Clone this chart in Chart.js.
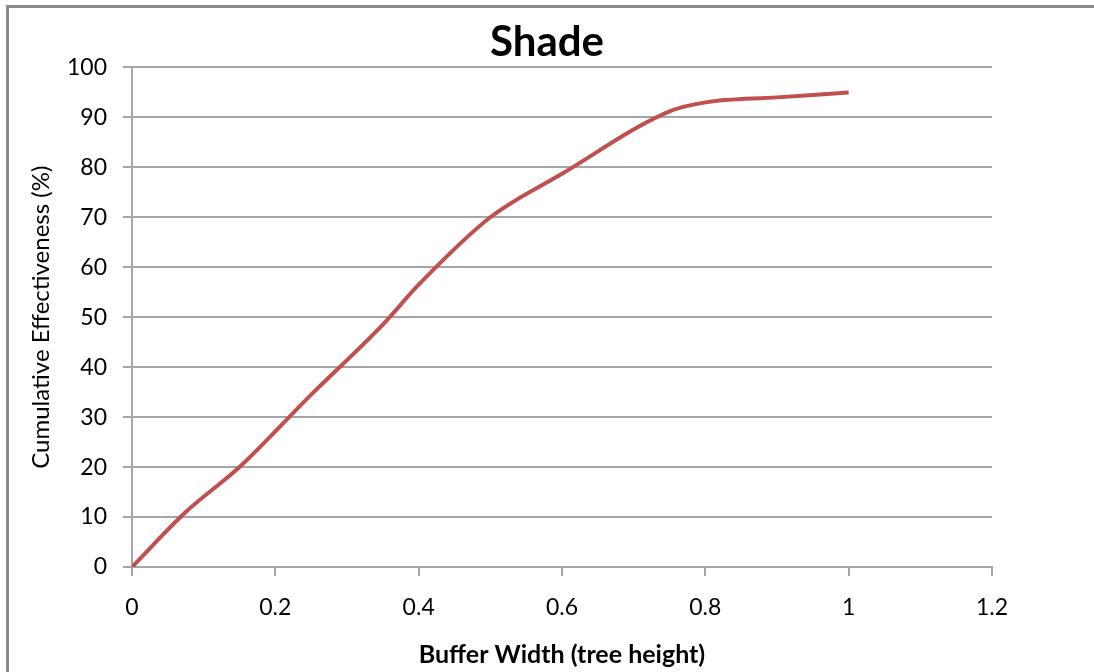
<!DOCTYPE html>
<html>
<head>
<meta charset="utf-8">
<script src="https://cdn.jsdelivr.net/npm/chart.js@4"></script>
<style>
  html, body { margin: 0; padding: 0; background: #fff; overflow: hidden; }
  canvas { display: block; }
</style>
</head>
<body>
<canvas id="shadeChart" width="1094" height="672"></canvas>
<script>
// buffer width (tree height) vs cumulative effectiveness (%)
const bufferWidth = [0, 0.075, 0.15, 0.25, 0.35, 0.4, 0.5, 0.6, 0.75, 0.8, 0.9, 1.0];
const effectiveness = [0, 11, 20, 34.5, 48.5, 56.5, 70, 78.7, 91.2, 93, 94, 95];
const xTicks = [0, 0.2, 0.4, 0.6, 0.8, 1, 1.2];
const yTicks = [0, 10, 20, 30, 40, 50, 60, 70, 80, 90, 100];

const fontFamily = 'Lato, "Open Sans", sans-serif';
const gridColor = '#a6a6a6';

// outer chart frame, only the top and left edges are in view
const framePlugin = {
    id: 'frame',
    beforeDraw(chart) {
        const c = chart.ctx;
        c.save();
        c.strokeStyle = '#8a8a8a';
        c.lineWidth = 3;
        c.beginPath();
        c.moveTo(chart.width + 5, 6.5);
        c.lineTo(7.5, 6.5);
        c.lineTo(7.5, chart.height + 5);
        c.stroke();
        c.restore();
    }
};

const ctx = document.getElementById('shadeChart').getContext('2d');
const chart = new Chart(ctx, {
    type: 'line',
    data: {
        datasets: [{
            label: 'Shade',
            data: bufferWidth.map((x, i) => ({ x, y: effectiveness[i] })),
            borderColor: '#c0504d',
            borderWidth: 4,
            pointRadius: 0,
            fill: false,
            cubicInterpolationMode: 'monotone'
        }]
    },
    options: {
        responsive: false,
        animation: false,
        layout: { padding: 0 },
        plugins: {
            legend: { display: false },
            tooltip: { enabled: false },
            title: {
                display: true,
                text: 'Shade',
                color: '#000',
                font: { family: fontFamily, size: 42, weight: 'bold' },
                padding: { top: 17, bottom: 0 }
            }
        },
        scales: {
            x: {
                type: 'linear',
                min: 0,
                max: 1.2,
                afterBuildTicks: s => { s.ticks = xTicks.map(v => ({ value: v })); },
                afterFit: s => { s.height = 105; },
                ticks: {
                    color: '#000',
                    font: { family: fontFamily, size: 23 },
                    padding: 18,
                    callback: v => String(v)
                },
                grid: { drawOnChartArea: false, drawTicks: true, tickLength: 9, color: gridColor, lineWidth: 2 },
                border: { display: true, color: gridColor, width: 2 },
                title: {
                    display: true,
                    text: 'Buffer Width (tree height)',
                    color: '#000',
                    font: { family: fontFamily, size: 25, weight: 'bold' },
                    padding: { top: 0, bottom: 2 }
                }
            },
            y: {
                min: 0,
                max: 100,
                afterBuildTicks: s => { s.ticks = yTicks.map(v => ({ value: v })); },
                afterFit: s => { s.width = 132; },
                ticks: {
                    color: '#000',
                    font: { family: fontFamily, size: 23 },
                    padding: 16
                },
                grid: { drawTicks: true, tickLength: 9, color: gridColor, lineWidth: 2 },
                border: { display: true, color: gridColor, width: 2 },
                title: {
                    display: true,
                    text: 'Cumulative Effectiveness (%)',
                    color: '#000',
                    font: { family: fontFamily, size: 24, weight: 'normal' },
                    padding: { top: 27, bottom: 0 }
                }
            },
            // empty right margin so the title centres over the whole frame
            yRight: {
                position: 'right',
                display: true,
                min: 0,
                max: 100,
                afterFit: s => { s.width = 102; },
                ticks: { display: false },
                grid: { display: false },
                border: { display: false }
            }
        }
    },
    plugins: [framePlugin]
});
</script>
</body>
</html>
